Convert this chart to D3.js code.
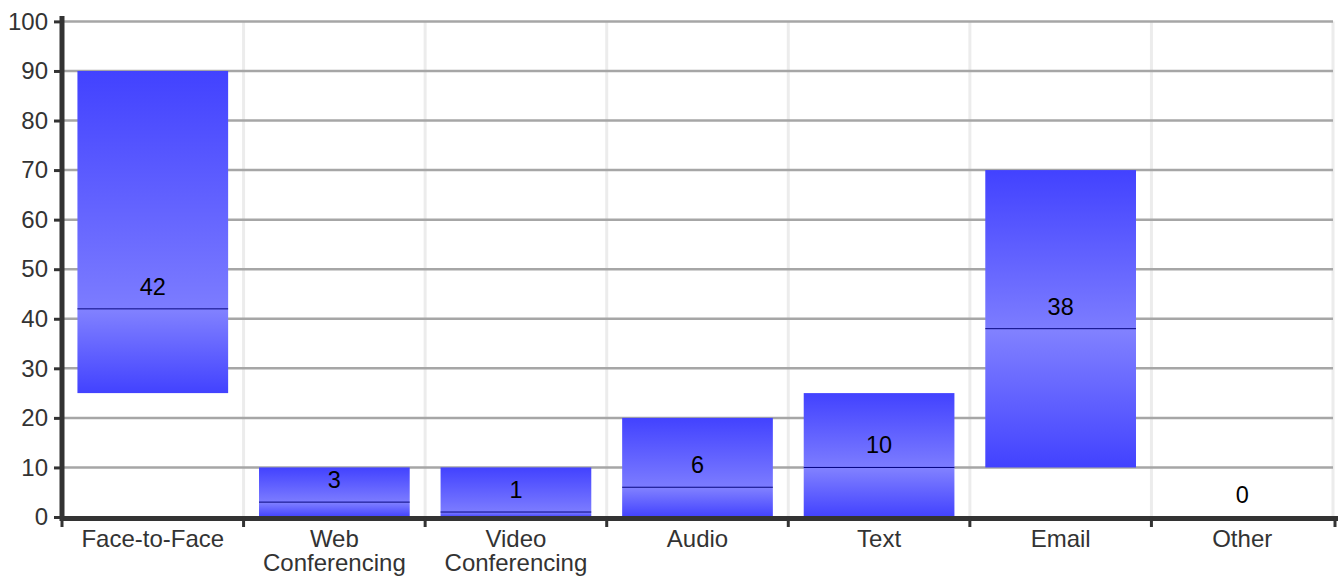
<!DOCTYPE html>
<html><head><meta charset="utf-8">
<script src="https://cdn.jsdelivr.net/npm/d3@7"></script>
<style>body{margin:0;background:#fff}svg{display:block;font-family:"Liberation Sans",Arial,sans-serif}</style>
</head><body><svg id="c" width="1343" height="576"></svg>
<script>
const categories = ["Face-to-Face", "Web Conferencing", "Video Conferencing", "Audio", "Text", "Email", "Other"];
const lows = [25, 0, 0, 0, 0, 10, 0];
const highs = [90, 10, 10, 20, 25, 70, 0];
const medians = [42, 3, 1, 6, 10, 38, 0];
const yTicks = [0, 10, 20, 30, 40, 50, 60, 70, 80, 90, 100];

(function () {
const svg = d3.select("#c");
const pL = 62, pR = 1333, pT = 21.4, pB = 517;
const FONT = "Liberation Sans, Arial, sans-serif";
const x = d3.scaleBand().domain(categories).range([pL, pR]).paddingInner(0.17).paddingOuter(0.085);
const xb = d3.scaleBand().domain(categories).range([pL, pR]);
const y = d3.scaleLinear().domain([0, 100]).range([pB, pT]);

const defs = svg.append("defs");
const gUp = defs.append("linearGradient").attr("id", "gUp").attr("x1", 0).attr("y1", 0).attr("x2", 0).attr("y2", 1);
gUp.append("stop").attr("offset", "0%").attr("stop-color", "#4242ff");
gUp.append("stop").attr("offset", "100%").attr("stop-color", "#7c7cff");
const gDn = defs.append("linearGradient").attr("id", "gDn").attr("x1", 0).attr("y1", 0).attr("x2", 0).attr("y2", 1);
gDn.append("stop").attr("offset", "0%").attr("stop-color", "#8282ff");
gDn.append("stop").attr("offset", "100%").attr("stop-color", "#4242ff");

// vertical grid
svg.append("g").selectAll("line").data(categories.slice(1).concat(["__end"])).join("line")
  .attr("x1", d => d === "__end" ? pR : xb(d)).attr("x2", d => d === "__end" ? pR : xb(d))
  .attr("y1", pT).attr("y2", pB).attr("stroke", "#ececec").attr("stroke-width", 3);
// horizontal grid
svg.append("g").selectAll("line").data(yTicks.slice(1)).join("line")
  .attr("x1", pL).attr("x2", pR).attr("y1", d => y(d)).attr("y2", d => y(d))
  .attr("stroke", "#a6a6a6").attr("stroke-width", 2.5);

// bars
const bars = svg.append("g").selectAll("g").data(categories).join("g");
bars.append("rect").attr("x", d => x(d)).attr("width", x.bandwidth())
  .attr("y", (d, i) => y(highs[i])).attr("height", (d, i) => y(medians[i]) - y(highs[i]))
  .attr("fill", "url(#gUp)");
bars.append("rect").attr("x", d => x(d)).attr("width", x.bandwidth())
  .attr("y", (d, i) => y(medians[i])).attr("height", (d, i) => y(lows[i]) - y(medians[i]))
  .attr("fill", "url(#gDn)");
bars.filter((d, i) => highs[i] > lows[i]).append("line")
  .attr("x1", d => x(d)).attr("x2", d => x(d) + x.bandwidth())
  .attr("y1", (d, i) => y(medians[i])).attr("y2", (d, i) => y(medians[i]))
  .attr("stroke", "#000080").attr("stroke-width", 1);
bars.append("text").attr("x", d => x(d) + x.bandwidth() / 2)
  .attr("y", (d, i) => y(medians[i]) - 14).attr("text-anchor", "middle")
  .attr("font-family", FONT).attr("font-size", 23.5).attr("fill", "#000").text((d, i) => medians[i]);

// y axis
const ya = svg.append("g").attr("transform", `translate(${pL},0)`)
  .call(d3.axisLeft(y).tickValues(yTicks).tickSize(8).tickPadding(6));
ya.select(".domain").remove();
ya.selectAll(".tick line").attr("stroke", "#333").attr("stroke-width", 3);
ya.selectAll(".tick text").attr("font-size", 24).attr("fill", "#333").attr("font-family", FONT);
svg.append("line").attr("x1", pL).attr("x2", pL).attr("y1", 16).attr("y2", pB + 4)
  .attr("stroke", "#333").attr("stroke-width", 5);

// x axis
const xa = svg.append("g").attr("transform", `translate(0,${pB + 1.5})`)
  .call(d3.axisBottom(xb).tickSize(0).tickPadding(11));
xa.select(".domain").remove();
xa.selectAll(".tick text").attr("font-size", 24).attr("fill", "#333").attr("font-family", FONT)
  .each(function (d) {
    const t = d3.select(this);
    const words = d.split(" ");
    if (words.length > 1) {
      t.text(null);
      words.forEach((w, k) => t.append("tspan").attr("x", 0).attr("dy", k === 0 ? "0.71em" : "1.0em").text(w));
    }
  });
svg.append("line").attr("x1", pL - 2).attr("x2", 1338).attr("y1", pB + 1.5).attr("y2", pB + 1.5)
  .attr("stroke", "#333").attr("stroke-width", 5);
const bounds = categories.map(c => xb(c)).concat([pR + 2]);
svg.append("g").selectAll("line").data(bounds).join("line")
  .attr("x1", d => d).attr("x2", d => d).attr("y1", pB).attr("y2", pB + 10)
  .attr("stroke", "#333").attr("stroke-width", 3);
})();
</script></body></html>
